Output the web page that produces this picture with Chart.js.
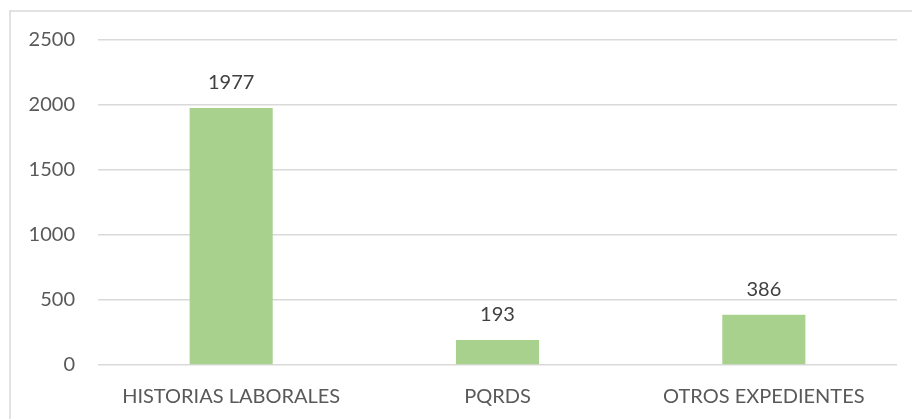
<!DOCTYPE html>
<html>
<head>
<meta charset="utf-8">
<script src="https://cdn.jsdelivr.net/npm/chart.js@4"></script>
<style>
  html, body { margin: 0; padding: 0; background: #fff; }
  #wrap { width: 912px; height: 419px; position: relative; }
</style>
</head>
<body>
<div id="wrap"><canvas id="grafico"></canvas></div>
<script>
// Datos del gráfico
const categorias = ["HISTORIAS LABORALES", "PQRDS", "OTROS EXPEDIENTES"];
const cantidades = [1977, 193, 386];
const ejeY = [0, 500, 1000, 1500, 2000, 2500];

const fuente = "Lato, 'Open Sans', sans-serif";

// Marco gris del área del gráfico (solo izquierda y arriba quedan visibles)
const marco = {
  id: "marco",
  beforeDraw(chart) {
    const ctx = chart.ctx;
    ctx.save();
    ctx.strokeStyle = "#D9D9D9";
    ctx.lineWidth = 1.5;
    ctx.beginPath();
    ctx.moveTo(10, chart.height);
    ctx.lineTo(10, 11);
    ctx.lineTo(chart.width, 11);
    ctx.stroke();
    ctx.restore();
  }
};

// Etiquetas de valor encima de cada barra
const etiquetas = {
  id: "etiquetas",
  afterDatasetsDraw(chart) {
    const ctx = chart.ctx;
    const meta = chart.getDatasetMeta(0);
    ctx.save();
    ctx.font = "20px " + fuente;
    ctx.fillStyle = "#404040";
    ctx.textAlign = "center";
    ctx.textBaseline = "middle";
    meta.data.forEach((barra, i) => {
      ctx.fillText(String(cantidades[i]), barra.x, barra.y - 25);
    });
    ctx.restore();
  }
};

new Chart(document.getElementById("grafico"), {
  type: "bar",
  data: {
    labels: categorias,
    datasets: [{
      data: cantidades,
      backgroundColor: "#A9D18E",
      borderWidth: 0,
      categoryPercentage: 1,
      barPercentage: 0.312
    }]
  },
  options: {
    responsive: true,
    maintainAspectRatio: false,
    animation: false,
    layout: { padding: { top: 40, right: 15, left: 10, bottom: 0 } },
    plugins: {
      legend: { display: false },
      tooltip: { enabled: false }
    },
    scales: {
      x: {
        grid: { display: false, drawTicks: false },
        border: { display: false },
        ticks: { color: "#595959", font: { family: fuente, size: 20 }, padding: 20, maxRotation: 0 },
        afterFit(s) { s.height = 54; }
      },
      y: {
        min: 0,
        max: 2500,
        afterBuildTicks(s) { s.ticks = ejeY.map(v => ({ value: v })); },
        grid: { color: "#D9D9D9", lineWidth: 1.5, drawTicks: false },
        border: { display: false },
        ticks: {
          color: "#595959",
          font: { family: fuente, size: 20 },
          padding: 23,
          callback: v => String(v)
        },
        afterFit(s) { s.width = 88; }
      }
    }
  },
  plugins: [marco, etiquetas]
});
</script>
</body>
</html>
